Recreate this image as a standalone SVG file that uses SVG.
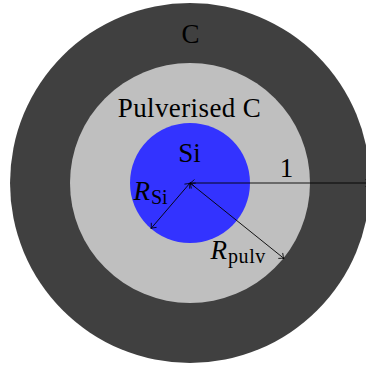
<svg xmlns="http://www.w3.org/2000/svg" width="366" height="367" viewBox="0 0 366 367">
  <style>
    text { font-family: "Liberation Serif", "DejaVu Serif", serif; fill: #000; }
    .lbl { font-size: 27px; text-anchor: middle; }
    .math { font-size: 27px; font-style: italic; }
    .sub { font-size: 20px; font-style: normal; }
    .conn { stroke: #000; stroke-width: 0.9; fill: none; marker-start: url(#tip); marker-end: url(#tip); }
  </style>
  <defs>
    <marker id="tip" viewBox="-6 -5 8 10" refX="0" refY="0" markerWidth="8" markerHeight="10" markerUnits="userSpaceOnUse" orient="auto-start-reverse">
      <path d="M -4.5 -3.5 Q -1.5 -0.6 0 0 Q -1.5 0.6 -4.5 3.5" fill="none" stroke="#000" stroke-width="0.8"/>
    </marker>
  </defs>
  <rect width="366" height="367" fill="#fff"/>
  <g id="carbon">
    <circle cx="190" cy="183" r="180" fill="#404040"/>
    <text class="lbl" x="190.5" y="43">C</text>
  </g>
  <g id="pulverised">
    <circle cx="190" cy="183" r="120" fill="#bfbfbf"/>
    <text class="lbl" x="189.5" y="116.5" letter-spacing="0.4">Pulverised C</text>
  </g>
  <g id="silicon">
    <circle cx="190" cy="183" r="60" fill="#3333ff"/>
    <text class="lbl" x="189.5" y="161.5">Si</text>
  </g>
  <g id="connectors">
    <line class="conn" x1="190" y1="183" x2="370" y2="183"/>
    <line class="conn" x1="190" y1="183" x2="151" y2="228.5"/>
    <line class="conn" x1="190" y1="183" x2="284" y2="258.5"/>
  </g>
  <g id="labels">
    <text class="lbl" x="286.5" y="177">1</text>
    <text class="math" x="133.5" y="200">R<tspan class="sub" dx="1" dy="4">Si</tspan></text>
    <text class="math" x="210.5" y="259">R<tspan class="sub" dx="1" dy="4" letter-spacing="0.6">pulv</tspan></text>
  </g>
</svg>
